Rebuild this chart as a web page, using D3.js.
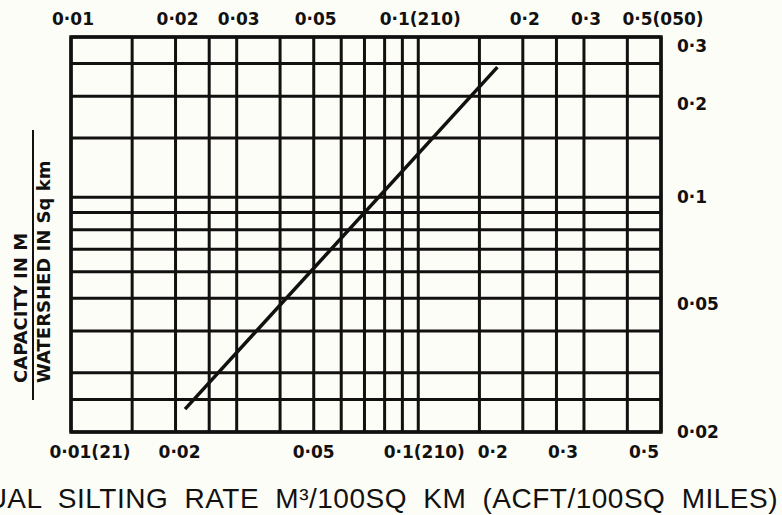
<!DOCTYPE html>
<html>
<head>
<meta charset="utf-8">
<script src="https://cdn.jsdelivr.net/npm/d3@7"></script>
<style>
  html, body { margin: 0; padding: 0; background: #fdfdf8; }
  svg { display: block; }
</style>
</head>
<body>
<script>
// ---------- data ----------
const xGridValues = [0.01, 0.015, 0.02, 0.025, 0.03, 0.04, 0.05, 0.06, 0.07, 0.08, 0.09, 0.1, 0.15, 0.2, 0.25, 0.3, 0.4, 0.5];
const yGridValues = [0.02, 0.025, 0.03, 0.04, 0.05, 0.06, 0.07, 0.08, 0.09, 0.1, 0.15, 0.2, 0.25, 0.3];
const topTickValues = [0.01, 0.02, 0.03, 0.05, 0.1, 0.2, 0.3, 0.5];
const topTickLabels = ["0·01", "0·02", "0·03", "0·05", "0·1(210)", "0·2", "0·3", "0·5(050)"];
const bottomTickValues = [0.01, 0.02, 0.05, 0.1, 0.2, 0.3, 0.5];
const bottomTickLabels = ["0·01(21)", "0·02", "0·05", "0·1(210)", "0·2", "0·3", "0·5"];
const rightTickValues = [0.3, 0.2, 0.1, 0.05, 0.02];
const rightTickLabels = ["0·3", "0·2", "0·1", "0·05", "0·02"];
const curveX = [0.0213, 0.169];
const curveY = [0.0234, 0.244];
const xTitle = "ANNUAL SILTING RATE M³/100SQ KM (ACFT/100SQ MILES)";
const yTitleTop = "CAPACITY IN M";
const yTitleBottom = "WATERSHED IN Sq km";

// ---------- layout ----------
const W = 782, H = 515;
const plot = { left: 71, right: 661, top: 37, bottom: 432 };
const ink = "#121110";
const labelFont = "'DejaVu Sans', sans-serif";
// small per-label nudges (the scanned original drifts from the grid)
const bottomNudge = { 0.01: 19, 0.02: 4, 0.1: 6, 0.2: -30, 0.3: -21, 0.5: -17 };
const rightNudge = { 0.3: 9, 0.2: 8, 0.1: 0, 0.05: 6, 0.02: 0 };

const svg = d3.select("body").append("svg")
  .attr("width", W).attr("height", H);

svg.append("rect").attr("width", W).attr("height", H).attr("fill", "#fdfdf8");

const x = d3.scaleLog().domain([0.01, 0.5]).range([plot.left, plot.right]);
const y = d3.scaleLog().domain([0.02, 0.3]).range([plot.bottom, plot.top]);

const g = svg.append("g");

// vertical grid lines
g.selectAll("line.vx").data(xGridValues).join("line")
  .attr("class", "vx")
  .attr("x1", d => x(d)).attr("x2", d => x(d))
  .attr("y1", plot.top).attr("y2", plot.bottom)
  .attr("stroke", ink).attr("stroke-width", 3);

// horizontal grid lines
g.selectAll("line.hy").data(yGridValues).join("line")
  .attr("class", "hy")
  .attr("x1", plot.left).attr("x2", plot.right)
  .attr("y1", d => y(d)).attr("y2", d => y(d))
  .attr("stroke", ink).attr("stroke-width", 3);

// frame
g.append("rect")
  .attr("x", plot.left).attr("y", plot.top)
  .attr("width", plot.right - plot.left).attr("height", plot.bottom - plot.top)
  .attr("fill", "none").attr("stroke", ink).attr("stroke-width", 3.5);

// relationship line
const pts = curveX.map((v, i) => [v, curveY[i]]);
g.append("path")
  .datum(pts)
  .attr("d", d3.line().x(d => x(d[0])).y(d => y(d[1])))
  .attr("fill", "none").attr("stroke", ink).attr("stroke-width", 3.5);

// top labels
svg.selectAll("text.top").data(topTickValues).join("text")
  .attr("class", "top")
  .attr("x", d => x(d) + 2)
  .attr("y", 25)
  .attr("text-anchor", "middle")
  .attr("font-family", labelFont).attr("font-weight", "bold").attr("font-size", 17)
  .attr("fill", ink)
  .text((d, i) => topTickLabels[i]);

// bottom labels
svg.selectAll("text.bot").data(bottomTickValues).join("text")
  .attr("class", "bot")
  .attr("x", d => x(d) + (bottomNudge[d] || 0))
  .attr("y", 458)
  .attr("text-anchor", "middle")
  .attr("font-family", labelFont).attr("font-weight", "bold").attr("font-size", 17)
  .attr("fill", ink)
  .text((d, i) => bottomTickLabels[i]);

// right labels
svg.selectAll("text.rt").data(rightTickValues).join("text")
  .attr("class", "rt")
  .attr("x", 677)
  .attr("y", d => y(d) + (rightNudge[d] || 0))
  .attr("dy", "0.36em")
  .attr("text-anchor", "start")
  .attr("font-family", labelFont).attr("font-weight", "bold").attr("font-size", 17)
  .attr("fill", ink)
  .text((d, i) => rightTickLabels[i]);

// x title (cut at left edge like the scan)
svg.append("text")
  .attr("x", 778).attr("y", 508)
  .attr("text-anchor", "end")
  .attr("font-family", "'Liberation Sans', Arial, sans-serif")
  .attr("font-size", 28)
  .attr("letter-spacing", 0.5)
  .attr("word-spacing", 8)
  .attr("fill", ink)
  .text(xTitle);

// y title as a fraction
const yt = svg.append("g");
yt.append("text")
  .attr("transform", "translate(27,383) rotate(-90)")
  .attr("text-anchor", "start")
  .attr("font-family", labelFont).attr("font-weight", "bold").attr("font-size", 18)
  .attr("fill", ink)
  .text(yTitleTop);
yt.append("line")
  .attr("x1", 33).attr("x2", 33).attr("y1", 130).attr("y2", 400)
  .attr("stroke", ink).attr("stroke-width", 2);
yt.append("text")
  .attr("transform", "translate(50,383) rotate(-90)")
  .attr("text-anchor", "start")
  .attr("font-family", labelFont).attr("font-weight", "bold").attr("font-size", 18)
  .attr("fill", ink)
  .text(yTitleBottom);
</script>
</body>
</html>
